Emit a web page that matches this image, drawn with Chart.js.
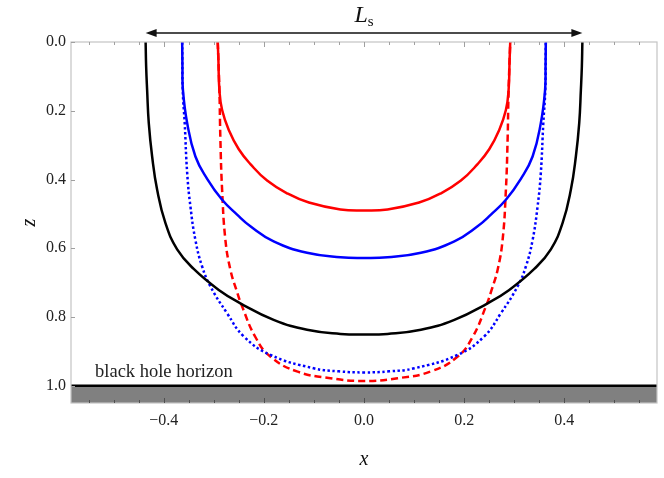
<!DOCTYPE html>
<html>
<head>
<meta charset="utf-8">
<script src="https://cdn.jsdelivr.net/npm/chart.js@4.4.1/dist/chart.umd.min.js"></script>
<style>
  html, body { margin: 0; padding: 0; background: #fff; }
  canvas { display: block; }
</style>
</head>
<body>
<canvas id="surfaces-chart" width="664" height="478"></canvas>
<script>
// values (x, z)
var blackX = [-0.436, -0.435, -0.433, -0.4297, -0.423, -0.413, -0.3964, -0.3731, -0.34, -0.29, -0.2468, -0.1804, -0.1137, -0.047, 0,
              0.047, 0.1137, 0.1804, 0.2468, 0.29, 0.34, 0.3731, 0.3964, 0.413, 0.423, 0.4297, 0.433, 0.435, 0.436];
var blackZ = [0, 0.07, 0.14, 0.236, 0.333, 0.43, 0.527, 0.603, 0.66, 0.721, 0.76, 0.808, 0.837, 0.849, 0.851,
              0.849, 0.837, 0.808, 0.76, 0.721, 0.66, 0.603, 0.527, 0.43, 0.333, 0.236, 0.14, 0.07, 0];

var blueX = [-0.363, -0.3625, -0.3615, -0.353, -0.3366, -0.3132, -0.2833, -0.2534, -0.2268, -0.1804, -0.1137, -0.047, 0,
             0.047, 0.1137, 0.1804, 0.2268, 0.2534, 0.2833, 0.3132, 0.3366, 0.353, 0.3615, 0.3625, 0.363];
var blueZ = [0, 0.07, 0.14, 0.236, 0.333, 0.398, 0.459, 0.502, 0.536, 0.58, 0.613, 0.626, 0.628,
             0.626, 0.613, 0.58, 0.536, 0.502, 0.459, 0.398, 0.333, 0.236, 0.14, 0.07, 0];

var redX = [-0.292, -0.2907, -0.2887, -0.2833, -0.27, -0.25, -0.2268, -0.1935, -0.1536, -0.11, -0.047, 0,
            0.047, 0.11, 0.1536, 0.1935, 0.2268, 0.25, 0.27, 0.2833, 0.2887, 0.2907, 0.292];
var redZ = [0, 0.052, 0.14, 0.198, 0.256, 0.312, 0.355, 0.403, 0.44, 0.467, 0.487, 0.49,
            0.487, 0.467, 0.44, 0.403, 0.355, 0.312, 0.256, 0.198, 0.14, 0.052, 0];

var blueDotX = [-0.363, -0.3619, -0.358, -0.353, -0.3465, -0.3366, -0.3232, -0.3066, -0.2733, -0.2402, -0.187, -0.1006, -0.05, 0,
                0.05, 0.1006, 0.187, 0.2402, 0.2733, 0.3066, 0.3232, 0.3366, 0.3465, 0.353, 0.358, 0.3619, 0.363];
var blueDotZ = [0, 0.14, 0.236, 0.382, 0.479, 0.576, 0.653, 0.711, 0.789, 0.856, 0.91, 0.949, 0.958, 0.961,
                0.958, 0.949, 0.91, 0.856, 0.789, 0.711, 0.653, 0.576, 0.479, 0.382, 0.236, 0.14, 0];

var redDashX = [-0.292, -0.2887, -0.2867, -0.2833, -0.2767, -0.2667, -0.2548, -0.2434, -0.2169, -0.187, -0.134, -0.067, 0,
                0.067, 0.134, 0.187, 0.2169, 0.2434, 0.2548, 0.2667, 0.2767, 0.2833, 0.2867, 0.2887, 0.292];
var redDashZ = [0, 0.14, 0.285, 0.43, 0.576, 0.663, 0.721, 0.769, 0.858, 0.915, 0.958, 0.978, 0.986,
                0.978, 0.958, 0.915, 0.858, 0.769, 0.721, 0.663, 0.576, 0.43, 0.285, 0.14, 0];

var horizonX = [-0.585, 0.585];
var horizonZ = [1.0, 1.0];

var xTickValues = [-0.4, -0.2, 0.0, 0.2, 0.4];
var zTickValues = [0.0, 0.2, 0.4, 0.6, 0.8, 1.0];
var xRange = [-0.585, 0.585];
var zRange = [0, 1.05];
var halfLs = 0.436;

var serif = "'Liberation Serif', 'DejaVu Serif', serif";

function points(xs, zs) {
    return xs.map(function (v, i) { return { x: v, y: zs[i] }; });
}

function fmt(v) {
    return (v < 0 ? '\u2212' : '') + Math.abs(v).toFixed(1);
}

// frame, inside ticks, the L_s arrow and the horizon note
var framePlugin = {
    id: 'frame',
    afterDatasetsDraw: function (chart) {
        var ctx = chart.ctx, a = chart.chartArea;
        var xs = chart.scales.x, ys = chart.scales.y;
        ctx.save();

        ctx.strokeStyle = '#c4c4c4';
        ctx.lineWidth = 1.2;
        ctx.strokeRect(a.left, a.top, a.right - a.left, a.bottom - a.top);

        ctx.lineWidth = 1;
        for (var i = -11; i <= 11; i++) {
            var px = Math.round(xs.getPixelForValue(i * 0.05)) + 0.5;
            var len = (i % 4 === 0) ? 5 : 3;
            ctx.strokeStyle = '#a0a0a0';
            ctx.beginPath();
            ctx.moveTo(px, a.top);
            ctx.lineTo(px, a.top + len);
            ctx.stroke();
            ctx.strokeStyle = '#505050';
            ctx.beginPath();
            ctx.moveTo(px, a.bottom);
            ctx.lineTo(px, a.bottom - len);
            ctx.stroke();
        }
        ctx.strokeStyle = '#a0a0a0';
        zTickValues.forEach(function (v) {
            var py = Math.round(ys.getPixelForValue(v)) + 0.5;
            ctx.beginPath();
            ctx.moveTo(a.left, py);
            ctx.lineTo(a.left + 4, py);
            ctx.stroke();
        });

        // arrow for L_s
        var x1 = xs.getPixelForValue(-halfLs), x2 = xs.getPixelForValue(halfLs);
        var ay = a.top - 9;
        ctx.strokeStyle = '#111';
        ctx.fillStyle = '#111';
        ctx.lineWidth = 1.5;
        ctx.beginPath();
        ctx.moveTo(x1 + 8, ay);
        ctx.lineTo(x2 - 8, ay);
        ctx.stroke();
        ctx.beginPath();
        ctx.moveTo(x1, ay);
        ctx.lineTo(x1 + 11, ay - 4);
        ctx.lineTo(x1 + 11, ay + 4);
        ctx.closePath();
        ctx.fill();
        ctx.beginPath();
        ctx.moveTo(x2, ay);
        ctx.lineTo(x2 - 11, ay - 4);
        ctx.lineTo(x2 - 11, ay + 4);
        ctx.closePath();
        ctx.fill();

        var cx = xs.getPixelForValue(0);
        ctx.textBaseline = 'alphabetic';
        ctx.textAlign = 'left';
        ctx.font = 'italic 24px ' + serif;
        var wl = ctx.measureText('L').width;
        ctx.font = '15px ' + serif;
        var ws = ctx.measureText('s').width;
        var sx = cx - (wl + ws) / 2;
        ctx.font = 'italic 24px ' + serif;
        ctx.fillText('L', sx, 22);
        ctx.font = '15px ' + serif;
        ctx.fillText('s', sx + wl, 26);

        ctx.fillStyle = '#222';
        ctx.font = '18.5px ' + serif;
        ctx.fillText('black hole horizon', xs.getPixelForValue(-0.537), ys.getPixelForValue(0.975));
        ctx.restore();
    }
};

function curve(xs, zs, color, dash) {
    return {
        data: points(xs, zs),
        borderColor: color,
        borderWidth: 2.5,
        borderDash: dash || [],
        borderJoinStyle: 'round',
        pointRadius: 0,
        fill: false,
        order: 0,
        tension: 0.45
    };
}

new Chart(document.getElementById('surfaces-chart'), {
    type: 'line',
    data: {
        datasets: [
            {
                data: points(horizonX, horizonZ),
                borderColor: '#000',
                borderWidth: 2.5,
                backgroundColor: '#808080',
                fill: 'start',
                order: 5,
                pointRadius: 0
            },
            curve(blackX, blackZ, '#000000'),
            curve(blueX, blueZ, '#0000ff'),
            curve(redX, redZ, '#ff0000'),
            curve(blueDotX, blueDotZ, '#0000ff', [2.5, 2.5]),
            curve(redDashX, redDashZ, '#ff0000', [7, 4])
        ]
    },
    options: {
        responsive: false,
        animation: false,
        devicePixelRatio: 1,
        layout: { padding: { top: 42, right: 7, left: 0, bottom: 0 } },
        plugins: { legend: { display: false }, tooltip: { enabled: false } },
        scales: {
            x: {
                type: 'linear',
                min: xRange[0],
                max: xRange[1],
                afterBuildTicks: function (s) { s.ticks = xTickValues.map(function (v) { return { value: v }; }); },
                afterFit: function (s) { s.height = 75; },
                grid: { display: false, drawTicks: false, tickLength: 0 },
                border: { display: false },
                ticks: {
                    padding: 8,
                    color: '#222',
                    font: { family: serif, size: 16 },
                    maxRotation: 0,
                    callback: function (v) { return fmt(v); }
                },
                title: {
                    display: true,
                    text: 'x',
                    color: '#111',
                    font: { family: serif, size: 20, style: 'italic' },
                    padding: { top: 4, bottom: 6 }
                }
            },
            y: {
                type: 'linear',
                reverse: true,
                min: zRange[0],
                max: zRange[1],
                afterBuildTicks: function (s) { s.ticks = zTickValues.map(function (v) { return { value: v }; }); },
                afterFit: function (s) { s.width = 71; },
                grid: { display: false, drawTicks: false, tickLength: 0 },
                border: { display: false },
                ticks: {
                    padding: 5,
                    color: '#222',
                    font: { family: serif, size: 16 },
                    callback: function (v) { return fmt(v); }
                },
                title: {
                    display: true,
                    text: 'z',
                    color: '#111',
                    font: { family: serif, size: 20, style: 'italic' },
                    padding: { top: 18, bottom: 0 }
                }
            }
        }
    },
    plugins: [framePlugin]
});
</script>
</body>
</html>
